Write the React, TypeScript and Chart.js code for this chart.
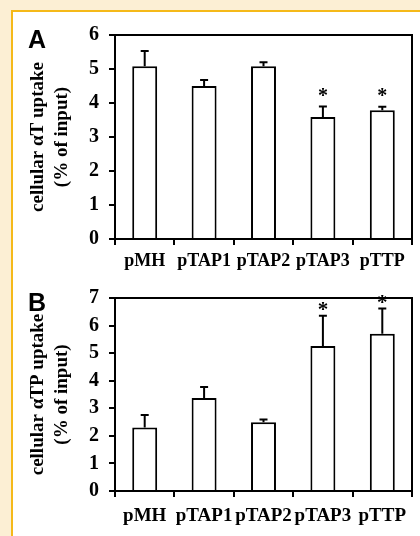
import React, { useEffect, useRef } from "react";
import { Chart, registerables } from "chart.js";

Chart.register(...registerables);

const categories = ["pMH", "pTAP1", "pTAP2", "pTAP3", "pTTP"];

const uptakeAT = [5.08, 4.5, 5.08, 3.59, 3.79];
const errorAT = [0.45, 0.18, 0.12, 0.31, 0.1];
const significantAT = [false, false, false, true, true];

const uptakeATP = [2.3, 3.37, 2.49, 5.26, 5.7];
const errorATP = [0.46, 0.4, 0.1, 1.1, 0.92];
const significantATP = [false, false, false, true, true];

const titleAT = ["cellular αT uptake", "(% of input)"];
const titleATP = ["cellular αTP uptake", "(% of input)"];

const SERIF = "'Liberation Serif', 'Times New Roman', serif";

type PanelProps = {
  letter: string;
  values: number[];
  errors: number[];
  significant: boolean[];
  title: string[];
  yMax: number;
  top: number;
  height: number;
  padTop: number;
  xAxisHeight: number;
  fontSize: number;
  tickSize: number;
  titleSize: number;
  starGap: number;
  labelPad: number;
};

function Panel(p: PanelProps) {
  const ref = useRef<HTMLCanvasElement | null>(null);
  useEffect(() => {
    if (!ref.current) return;
    const decor = {
      id: "decor",
      afterDatasetsDraw(chart: any) {
        const ctx = chart.ctx;
        const area = chart.chartArea;
        const ys = chart.scales.y;
        const meta = chart.getDatasetMeta(0);
        ctx.save();
        ctx.strokeStyle = "#000";
        ctx.lineWidth = 2;
        ctx.beginPath();
        ctx.moveTo(area.left, area.top);
        ctx.lineTo(area.right, area.top);
        ctx.lineTo(area.right, area.bottom);
        ctx.stroke();
        meta.data.forEach((bar: any, i: number) => {
          const v = p.values[i];
          const e = p.errors[i];
          const yTop = ys.getPixelForValue(v + e);
          const yBar = ys.getPixelForValue(v);
          ctx.beginPath();
          ctx.moveTo(bar.x, yBar);
          ctx.lineTo(bar.x, yTop);
          ctx.moveTo(bar.x - 4, yTop);
          ctx.lineTo(bar.x + 4, yTop);
          ctx.stroke();
          if (p.significant[i]) {
            ctx.fillStyle = "#000";
            ctx.font = `bold ${p.fontSize + 2}px ${SERIF}`;
            ctx.textAlign = "center";
            ctx.textBaseline = "middle";
            ctx.fillText("*", bar.x, yTop - p.starGap + 4);
          }
        });
        ctx.fillStyle = "#000";
        ctx.font = "bold 25px 'Liberation Sans', Arial, sans-serif";
        ctx.textAlign = "left";
        ctx.textBaseline = "alphabetic";
        ctx.fillText(p.letter, 28, area.top + 13);
        ctx.restore();
      },
    };
    const chart = new Chart(ref.current, {
      type: "bar",
      data: {
        labels: categories,
        datasets: [
          {
            data: p.values,
            backgroundColor: "#ffffff",
            borderColor: "#000000",
            borderWidth: 2,
            categoryPercentage: 1,
            barPercentage: 0.42,
          },
        ],
      },
      options: {
        animation: false,
        responsive: false,
        maintainAspectRatio: false,
        layout: { padding: { top: p.padTop, right: 8, left: 0, bottom: 0 } },
        plugins: { legend: { display: false }, tooltip: { enabled: false } },
        scales: {
          x: {
            afterFit: (s: any) => {
              s.height = p.xAxisHeight;
            },
            grid: {
              offset: true,
              drawOnChartArea: false,
              drawTicks: true,
              tickLength: 6,
              color: "#000",
              lineWidth: 2,
            },
            border: { display: true, color: "#000", width: 2 },
            ticks: {
              color: "#000",
              padding: p.labelPad,
              maxRotation: 0,
              autoSkip: false,
              font: { family: SERIF, size: p.fontSize, weight: "bold" },
            },
          },
          y: {
            min: 0,
            max: p.yMax,
            afterFit: (s: any) => {
              s.width = 115;
            },
            grid: {
              drawOnChartArea: false,
              drawTicks: true,
              tickLength: 6,
              color: "#000",
              lineWidth: 2,
            },
            border: { display: true, color: "#000", width: 2 },
            ticks: {
              stepSize: 1,
              color: "#000",
              padding: 10,
              font: { family: SERIF, size: p.tickSize, weight: "bold" },
            },
            title: {
              display: true,
              text: p.title,
              color: "#000",
              padding: { top: 26, bottom: 0 },
              font: { family: SERIF, size: p.titleSize, weight: "bold", lineHeight: "24px" },
            },
          },
        },
      },
      plugins: [decor],
    });
    return () => chart.destroy();
  }, []);
  return (
    <canvas
      ref={ref}
      width={420}
      height={p.height}
      style={{ position: "absolute", left: 0, top: p.top, width: 420, height: p.height }}
    />
  );
}

export default function App() {
  return (
    <div
      style={{
        position: "fixed",
        left: 0,
        top: 0,
        width: 420,
        height: 536,
        background: "#fcefd4",
        overflow: "hidden",
      }}
    >
      <div
        style={{
          position: "absolute",
          left: 11,
          top: 10,
          width: 420,
          height: 540,
          background: "#ffffff",
          borderTop: "2px solid #f5b919",
          borderLeft: "2px solid #f5b919",
        }}
      />
      <Panel
        letter="A"
        values={uptakeAT}
        errors={errorAT}
        significant={significantAT}
        title={titleAT}
        yMax={6}
        top={0}
        height={270}
        padTop={35}
        xAxisHeight={31}
        fontSize={18}
        tickSize={20}
        titleSize={19}
        starGap={14}
        labelPad={6}
      />
      <Panel
        letter="B"
        values={uptakeATP}
        errors={errorATP}
        significant={significantATP}
        title={titleATP}
        yMax={7}
        top={270}
        height={266}
        padTop={28}
        xAxisHeight={45}
        fontSize={19}
        tickSize={20}
        titleSize={19}
        starGap={9}
        labelPad={8}
      />
    </div>
  );
}
